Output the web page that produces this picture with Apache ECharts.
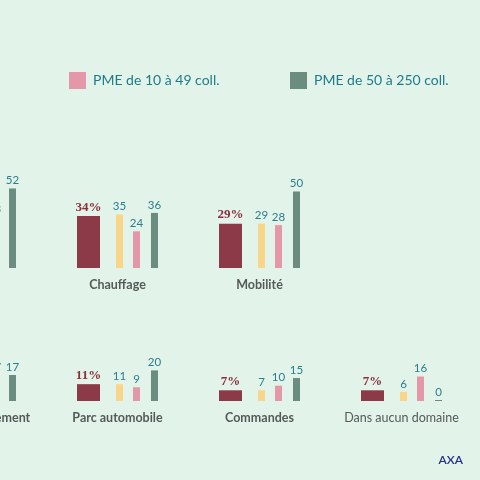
<!DOCTYPE html>
<html>
<head>
<meta charset="utf-8">
<script src="https://cdn.jsdelivr.net/npm/echarts@6/dist/echarts.min.js"></script>
<style>
  html, body { margin: 0; padding: 0; background: #e2f3ea; }
  #chart { width: 480px; height: 480px; }
</style>
</head>
<body>
<div id="chart"></div>
<script>
  // categories of the two rows (the first one of each row is cut by the frame)
  var topCategories = ['Déchets', 'Chauffage', 'Mobilité', ''];
  var bottomCategories = ['Approvisionnement', 'Parc automobile', 'Commandes', 'Dans aucun domaine'];

  var seriesNames = ['Ensemble', 'TPE de 1 à 9 coll.', 'PME de 10 à 49 coll.', 'PME de 50 à 250 coll.'];

  // values, top row
  var topEnsemble = [40, 34, 29, '-'];
  var topTpe = [38, 35, 29, '-'];
  var topPme10 = [33, 24, 28, '-'];
  var topPme50 = [52, 36, 50, '-'];

  // values, bottom row
  var bottomEnsemble = [15, 11, 7, 7];
  var bottomTpe = [14, 11, 7, 6];
  var bottomPme10 = [17, 9, 10, 16];
  var bottomPme50 = [17, 20, 15, 0];

  var COLORS = ['#8c3a47', '#f8d589', '#e597aa', '#6a8d80'];
  var WIDTHS = [23, 7, 7, 7];
  var GAPS = [16, 10, 11];
  var TEAL = '#2a7f8c';

  function rowSeries(gridIndex, rows) {
    var out = [];
    rows.forEach(function (vals, i) {
      if (i > 0) {
        // empty spacer, only keeps room between the bars
        out.push({
          type: 'bar',
          xAxisIndex: gridIndex,
          yAxisIndex: gridIndex,
          barWidth: GAPS[i - 1],
          barGap: 0,
          silent: true,
          data: vals.map(function () { return '-'; })
        });
      }
      out.push({
        name: seriesNames[i],
        type: 'bar',
        xAxisIndex: gridIndex,
        yAxisIndex: gridIndex,
        barWidth: WIDTHS[i],
        barGap: 0,
        barMinHeight: i === 3 ? 1 : 0,
        itemStyle: { color: COLORS[i] },
        label: i === 0 ? {
          show: true,
          position: 'top',
          distance: 2,
          formatter: '{c}%',
          color: '#8b2e3c',
          fontFamily: 'Liberation Serif',
          fontWeight: 'bold',
          fontSize: 13
        } : {
          show: true,
          position: 'top',
          distance: 2,
          color: TEAL,
          fontFamily: 'Lato',
          fontSize: 11.5
        },
        data: vals
      });
    });
    return out;
  }

  function catData(list) {
    return list.map(function (c) {
      return c === 'Dans aucun domaine' ? { value: c, textStyle: { fontWeight: 'normal' } } : c;
    });
  }

  function xAxis(gridIndex, list) {
    return {
      type: 'category',
      gridIndex: gridIndex,
      data: catData(list),
      axisLine: { show: false },
      axisTick: { show: false },
      axisLabel: {
        interval: 0,
        margin: 10,
        color: '#555a58',
        fontFamily: 'Lato',
        fontWeight: 'bold',
        fontSize: 12.5
      }
    };
  }

  function yAxis(gridIndex) {
    return { type: 'value', gridIndex: gridIndex, min: 0, max: 100, show: false };
  }

  function legend(name, left) {
    return {
      data: [name],
      left: left,
      top: 72,
      padding: 0,
      icon: 'rect',
      itemWidth: 17,
      itemHeight: 17,
      selectedMode: false,
      textStyle: { color: '#1f7b88', fontFamily: 'Lato', fontSize: 14, padding: [0, 0, 0, 2] }
    };
  }

  var chart = echarts.init(document.getElementById('chart'));
  chart.setOption({
    backgroundColor: '#e2f3ea',
    animation: false,
    legend: [legend(seriesNames[2], 69), legend(seriesNames[3], 290)],
    grid: [
      { left: -95.5, width: 568, top: 115, height: 153, outerBoundsMode: 'none', containLabel: false },
      { left: -95.5, width: 568, top: 248, height: 153, outerBoundsMode: 'none', containLabel: false }
    ],
    xAxis: [xAxis(0, topCategories), xAxis(1, bottomCategories)],
    yAxis: [yAxis(0), yAxis(1)],
    series: rowSeries(0, [topEnsemble, topTpe, topPme10, topPme50])
      .concat(rowSeries(1, [bottomEnsemble, bottomTpe, bottomPme10, bottomPme50])),
    graphic: [{
      type: 'text',
      right: 17,
      top: 454,
      style: { text: 'AXA', fill: '#262d8a', font: '600 12px Lato' }
    }]
  });
</script>
</body>
</html>
